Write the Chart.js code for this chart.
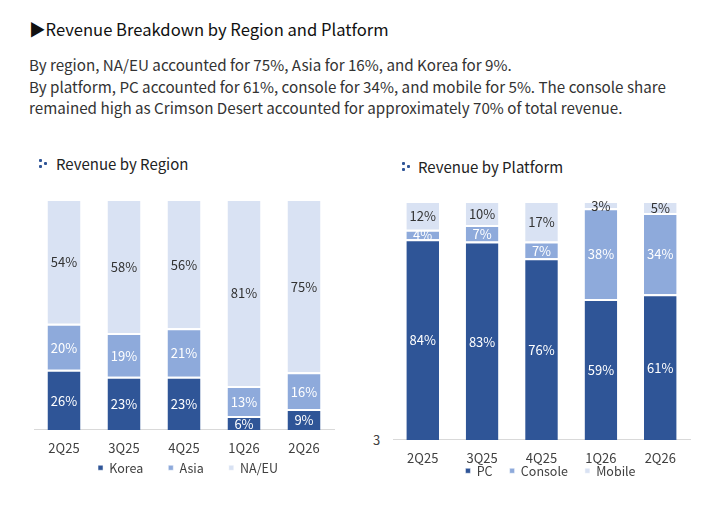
<!DOCTYPE html>
<html>
<head>
<meta charset="utf-8">
<script src="https://cdn.jsdelivr.net/npm/chart.js@4.4.1/dist/chart.umd.min.js"></script>
<style>
  html, body { margin: 0; padding: 0; background: #fff; }
  body { width: 720px; height: 524px; position: relative; overflow: hidden;
         font-family: "Noto Sans CJK KR", "Noto Sans", sans-serif; color: #333; }
  .title { position: absolute; left: 29px; top: 17px; font-size: 16.6px; color: #111; white-space: nowrap; }
  .para { position: absolute; left: 29px; top: 54px; font-size: 15.2px; line-height: 21.7px; color: #333; white-space: nowrap; }
  .sub { position: absolute; font-size: 15px; color: #222; white-space: nowrap; }
  .dots { position: absolute; width: 10px; height: 10px; }
  .dots i { position: absolute; width: 3px; height: 3px; background: #2f5597; border-radius: 1px; }
  .stray { position: absolute; left: 373px; top: 430px; font-size: 13px; color: #404040; }
  canvas { position: absolute; }
</style>
</head>
<body>
<div class="title">▶Revenue Breakdown by Region and Platform</div>
<div class="para">By region, NA/EU accounted for 75%, Asia for 16%, and Korea for 9%.<br>By platform, PC accounted for 61%, console for 34%, and mobile for 5%. The console share<br>remained high as Crimson Desert accounted for approximately 70% of total revenue.</div>

<div class="dots" style="left:39px;top:159px"><i style="left:0;top:0"></i><i style="left:5px;top:3px"></i><i style="left:0;top:6px"></i></div>
<div class="sub" style="left:56px;top:153px">Revenue by Region</div>
<div class="dots" style="left:402px;top:162px"><i style="left:0;top:0"></i><i style="left:5px;top:3px"></i><i style="left:0;top:6px"></i></div>
<div class="sub" style="left:418px;top:156px">Revenue by Platform</div>
<div class="stray">3</div>

<canvas id="region" width="360" height="330" style="left:0;top:185px;width:360px;height:330px"></canvas>
<canvas id="platform" width="360" height="330" style="left:360px;top:185px;width:360px;height:330px"></canvas>

<script>
const quarters = ["2Q25", "3Q25", "4Q25", "1Q26", "2Q26"];

const korea = [26, 23, 23, 6, 9];
const asia = [20, 19, 21, 13, 16];
const naeu = [54, 58, 56, 81, 75];

const pc = [84, 83, 76, 59, 61];
const consoleShare = [4, 7, 7, 38, 34];
const mobile = [12, 10, 17, 3, 5];

const DARK = "#2f5597";
const MID = "#8eaadb";
const LIGHT = "#d9e2f3";

Chart.defaults.font.family = "'Noto Sans CJK KR', 'Noto Sans', sans-serif";
Chart.defaults.color = "#404040";

// value labels in the middle of each segment
const segLabels = {
  id: "segLabels",
  afterDatasetsDraw(chart) {
    const ctx = chart.ctx;
    ctx.save();
    ctx.font = "13px 'Noto Sans CJK KR', 'Noto Sans', sans-serif";
    ctx.textAlign = "center";
    ctx.textBaseline = "middle";
    chart.data.datasets.forEach((ds, i) => {
      const meta = chart.getDatasetMeta(i);
      meta.data.forEach((bar, j) => {
        ctx.fillStyle = ds.labelColor;
        ctx.fillText(ds.data[j] + "%", bar.x, (bar.y + bar.base) / 2 + 1);
      });
    });
    ctx.restore();
  },
};

// pull the legend up closer to the tick labels (keeps wide item spacing)
const legendNudge = {
  id: "legendNudge",
  afterLayout(chart, args, opts) {
    const lg = chart.legend;
    if (!lg) return;
    lg.top += opts.dy;
    lg.bottom += opts.dy;
    lg.left += opts.dx;
    lg.right += opts.dx;
  },
};

function makeChart(id, names, series, pad, nudge, legendGap) {
  const colors = [DARK, MID, LIGHT];
  const labelColors = ["#fff", "#fff", "#333"];
  return new Chart(document.getElementById(id), {
    type: "bar",
    plugins: [segLabels, legendNudge],
    data: {
      labels: quarters,
      datasets: series.map((d, i) => ({
        label: names[i],
        data: d,
        backgroundColor: colors[i],
        borderColor: "#fff",
        borderWidth: { top: 2, left: 0, right: 0, bottom: 0 },
        borderSkipped: false,
        barPercentage: 0.55,
        categoryPercentage: 1,
        labelColor: labelColors[i],
      })),
    },
    options: {
      animation: false,
      responsive: false,
      layout: { padding: pad },
      plugins: {
        tooltip: { enabled: false },
        legendNudge: nudge,
        legend: {
          position: "bottom",
          labels: {
            usePointStyle: true,
            pointStyle: "rect",
            boxWidth: 5,
            boxHeight: 5,
            padding: legendGap,
            color: "#404040",
            font: { size: 12.5 },
          },
        },
      },
      scales: {
        x: {
          stacked: true,
          grid: { display: false, drawTicks: false },
          border: { display: true, color: "#d9d9d9" },
          ticks: { font: { size: 13 }, color: "#404040", padding: 10 },
        },
        y: { stacked: true, display: false, min: 0, max: 100 },
      },
    },
  });
}

makeChart("region", ["Korea", "Asia", "NA/EU"], [korea, asia, naeu],
  { left: 34, right: 26, top: 14, bottom: 2 }, { dx: 4, dy: -29 }, 25);
makeChart("platform", ["PC", "Console", "Mobile"], [pc, consoleShare, mobile],
  { left: 33, right: 30, top: 16, bottom: 0 }, { dx: 9, dy: -28 }, 17);
</script>
</body>
</html>
